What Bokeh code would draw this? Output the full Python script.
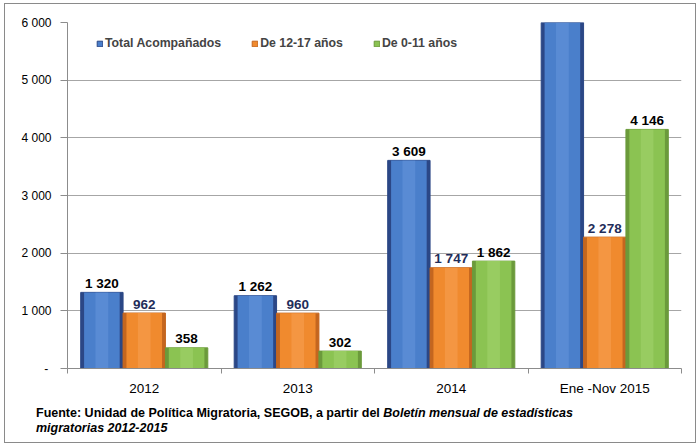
import numpy as np
from bokeh.plotting import figure
from bokeh.layouts import column
from bokeh.models import (ColumnDataSource, FixedTicker, Range1d, Legend, LegendItem, Div)
from bokeh.core.properties import value
from bokeh.embed import file_html
from bokeh.resources import INLINE

# ---- data ----
categories = ["2012", "2013", "2014", "Ene -Nov 2015"]
series_names = ["Total Acompañados", "De 12-17 años", "De 0-11 años"]
total_acomp = [1320, 1262, 3609, 6424]
de_12_17 = [962, 960, 1747, 2278]
de_0_11 = [358, 302, 1862, 4146]
y_ticks = [0, 1000, 2000, 3000, 4000, 5000, 6000]
y_tick_labels = ["-\u00a0", "1 000", "2 000", "3 000", "4 000", "5 000", "6 000"]
source_line1 = "Fuente: Unidad de Política Migratoria, SEGOB, a partir del"
source_line1_italic = "Boletín mensual de estadísticas"
source_line2 = "migratorias 2012-2015"

# ---- styles ----
FONT = "Liberation Sans"
edge_colors = ["#2b4786", "#c4661f", "#6b9a3b"]
main_colors = ["#4a7fcb", "#f08a2e", "#8bc352"]
high_colors = ["#6c9be0", "#f8a35c", "#a9d873"]
label_colors = ["#000000", "#1f2d5a", "#000000"]
bar_w = 0.276
offsets = [-bar_w, 0.0, bar_w]
Y_MAX = 6000

p = figure(width=690, height=402, output_backend="svg", toolbar_location=None,
           x_range=Range1d(0, len(categories)), y_range=Range1d(0, Y_MAX),
           min_border_left=62, min_border_right=14, min_border_top=18, min_border_bottom=38)
p.outline_line_color = None
p.background_fill_color = "white"
p.border_fill_color = "white"

idx = np.arange(len(categories)) + 0.5
main_renderers = []
for k, vals in enumerate([total_acomp, de_12_17, de_0_11]):
    src = ColumnDataSource(dict(
        x=idx + offsets[k], top=vals,
        lab=[f"{v:,}".replace(",", " ") if v <= Y_MAX else "" for v in vals]))
    p.vbar(x="x", top="top", width=bar_w, bottom=0, source=src,
           fill_color=edge_colors[k], line_color=edge_colors[k], line_width=1)
    p.vbar(x="x", top="top", width=bar_w * 0.84, bottom=0, source=src,
           fill_color=main_colors[k], line_color=None)
    p.vbar(x="x", top="top", width=bar_w * 0.3, bottom=0, source=src,
           fill_color=high_colors[k], fill_alpha=0.45, line_color=None)
    lr = p.vbar(x="x", top="top", width=bar_w, bottom=0, source=src,
                fill_color=main_colors[k], line_color=edge_colors[k], visible=False)
    main_renderers.append(lr)
    p.text(x="x", y="top", text="lab", source=src, text_align="center",
           text_baseline="alphabetic", y_offset=-9,
           text_font=value(FONT), text_font_size="13.5px", text_font_style="bold",
           text_color=label_colors[k])

# ---- axes ----
p.yaxis.ticker = FixedTicker(ticks=y_ticks)
p.yaxis.major_label_overrides = {t: l for t, l in zip(y_ticks, y_tick_labels)}
p.yaxis.major_label_text_font = FONT
p.yaxis.major_label_text_font_size = "12px"
p.yaxis.major_label_text_color = "#000000"
p.yaxis.major_tick_out = 7
p.yaxis.major_tick_in = 0
p.yaxis.minor_tick_line_color = None
p.yaxis.major_label_standoff = 9
p.yaxis.axis_line_color = "#8c8c8c"
p.yaxis.major_tick_line_color = "#8c8c8c"

p.xaxis.ticker = FixedTicker(ticks=list(idx), minor_ticks=list(np.arange(len(categories) + 1)))
p.xaxis.major_label_overrides = {float(t): c for t, c in zip(idx, categories)}
p.xaxis.major_label_text_font = FONT
p.xaxis.major_label_text_font_size = "13.5px"
p.xaxis.major_label_text_color = "#000000"
p.xaxis.major_tick_line_color = None
p.xaxis.major_tick_out = 0
p.xaxis.major_tick_in = 0
p.xaxis.minor_tick_out = 5
p.xaxis.minor_tick_in = 0
p.xaxis.minor_tick_line_color = "#8c8c8c"
p.xaxis.axis_line_color = "#8c8c8c"
p.xaxis.major_label_standoff = 7

p.xgrid.grid_line_color = None
p.ygrid.ticker = FixedTicker(ticks=y_ticks)
p.ygrid.grid_line_color = "#a6a6a6"
p.ygrid.grid_line_width = 1

# ---- legend ----
legend = Legend(items=[LegendItem(label=n, renderers=[r]) for n, r in zip(series_names, main_renderers)],
                orientation="horizontal", location=(29, 318),
                glyph_width=7, glyph_height=7, label_standoff=2, spacing=30,
                padding=0, margin=0, border_line_color=None, background_fill_alpha=0,
                label_text_font=FONT, label_text_font_size="12.3px", label_text_font_style="bold",
                label_height=13, label_text_baseline="middle")
p.add_layout(legend, "center")

# ---- source note ----
note = Div(text=f"<b>{source_line1} <i>{source_line1_italic}</i><br><i>{source_line2}</i></b>",
           width=650, height=36, margin=(0, 0, 0, 31),
           styles={"font-family": FONT, "font-size": "12.5px", "line-height": "15px",
                   "color": "#000000"})

layout = column(p, note, spacing=0,
                styles={"margin-left": "4px", "margin-top": "3px",
                        "border": "1px solid #8a8a8a", "background-color": "white"})

open("out.html", "w").write(file_html(layout, INLINE))
